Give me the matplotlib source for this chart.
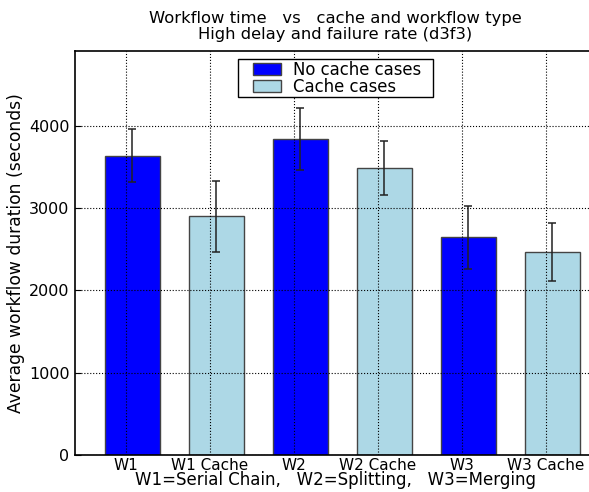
import numpy as np
import matplotlib
matplotlib.use('Agg')
import matplotlib.pyplot as plt
from matplotlib.patches import Rectangle
from matplotlib.legend_handler import HandlerPatch

labels = ["W1", "W1 Cache", "W2", "W2 Cache", "W3", "W3 Cache"]
means = [3640, 2900, 3845, 3488, 2644, 2470]
errors = [322, 430, 377, 334, 383, 353]
colors = ["blue", "lightblue", "blue", "lightblue", "blue", "lightblue"]


def inset_patch(legend, orig_handle, xdescent, ydescent, width, height, fontsize):
    # legend swatch shifted right, like the old-style legend
    off = 0.33 * width
    return Rectangle((-xdescent + off, -ydescent), width - off, height)


fig = plt.figure(figsize=(5.89, 4.92), dpi=100)
# axes runs a bit past the right edge of the picture, as in the original
ax = fig.add_axes([0.1273, 0.0752, 0.8846, 0.8211])

ind = np.arange(len(labels))
width = 0.65
bars = ax.bar(ind, means, width, align="edge", color=colors,
              edgecolor="#444444", linewidth=1.0, zorder=1)
ax.errorbar(ind + width / 2, means, yerr=errors, fmt="none", ecolor="#222222",
            elinewidth=1.1, capsize=3, capthick=1.1, zorder=2)

ax.set_xticks(ind + 0.25)
ax.set_xticklabels(labels, fontsize=11)
ax.set_yticks([0, 1000, 2000, 3000, 4000])
ax.tick_params(axis="y", labelsize=11.5, direction="in", length=4, pad=4)
ax.tick_params(axis="x", direction="in", length=0, pad=2)
ax.set_xlim(-0.357, 5.845)
ax.set_ylim(0, 4910)

ax.grid(True, color="black", linestyle=":", linewidth=0.8, zorder=3)
ax.set_axisbelow(False)
for s in ax.spines.values():
    s.set_linewidth(1.2)
ax.spines["right"].set_visible(False)

ax.set_ylabel("Average workflow duration (seconds)", fontsize=12.3, labelpad=3)
ax.set_xlabel("W1=Serial Chain,   W2=Splitting,   W3=Merging", fontsize=12, labelpad=-1)
ax.text(0.5, 1.0 + 33 / 404, "Workflow time   vs   cache and workflow type",
        transform=ax.transAxes, ha="center", va="center", fontsize=11.8)
ax.text(0.5, 1.0 + 17 / 404, "High delay and failure rate (d3f3)",
        transform=ax.transAxes, ha="center", va="center", fontsize=11.8)

leg = ax.legend([bars[0], bars[1]], ["No cache cases  ", "Cache cases"],
                loc="upper center", bbox_to_anchor=(0.5, 1.0), fancybox=False,
                framealpha=1, edgecolor="black", fontsize=11.9,
                borderpad=0.08, labelspacing=-0.05, handlelength=2.5,
                handletextpad=0.7, borderaxespad=0.5,
                handler_map={Rectangle: HandlerPatch(patch_func=inset_patch)})
leg.get_frame().set_linewidth(1.0)

fig.savefig("out.png", dpi=100)
